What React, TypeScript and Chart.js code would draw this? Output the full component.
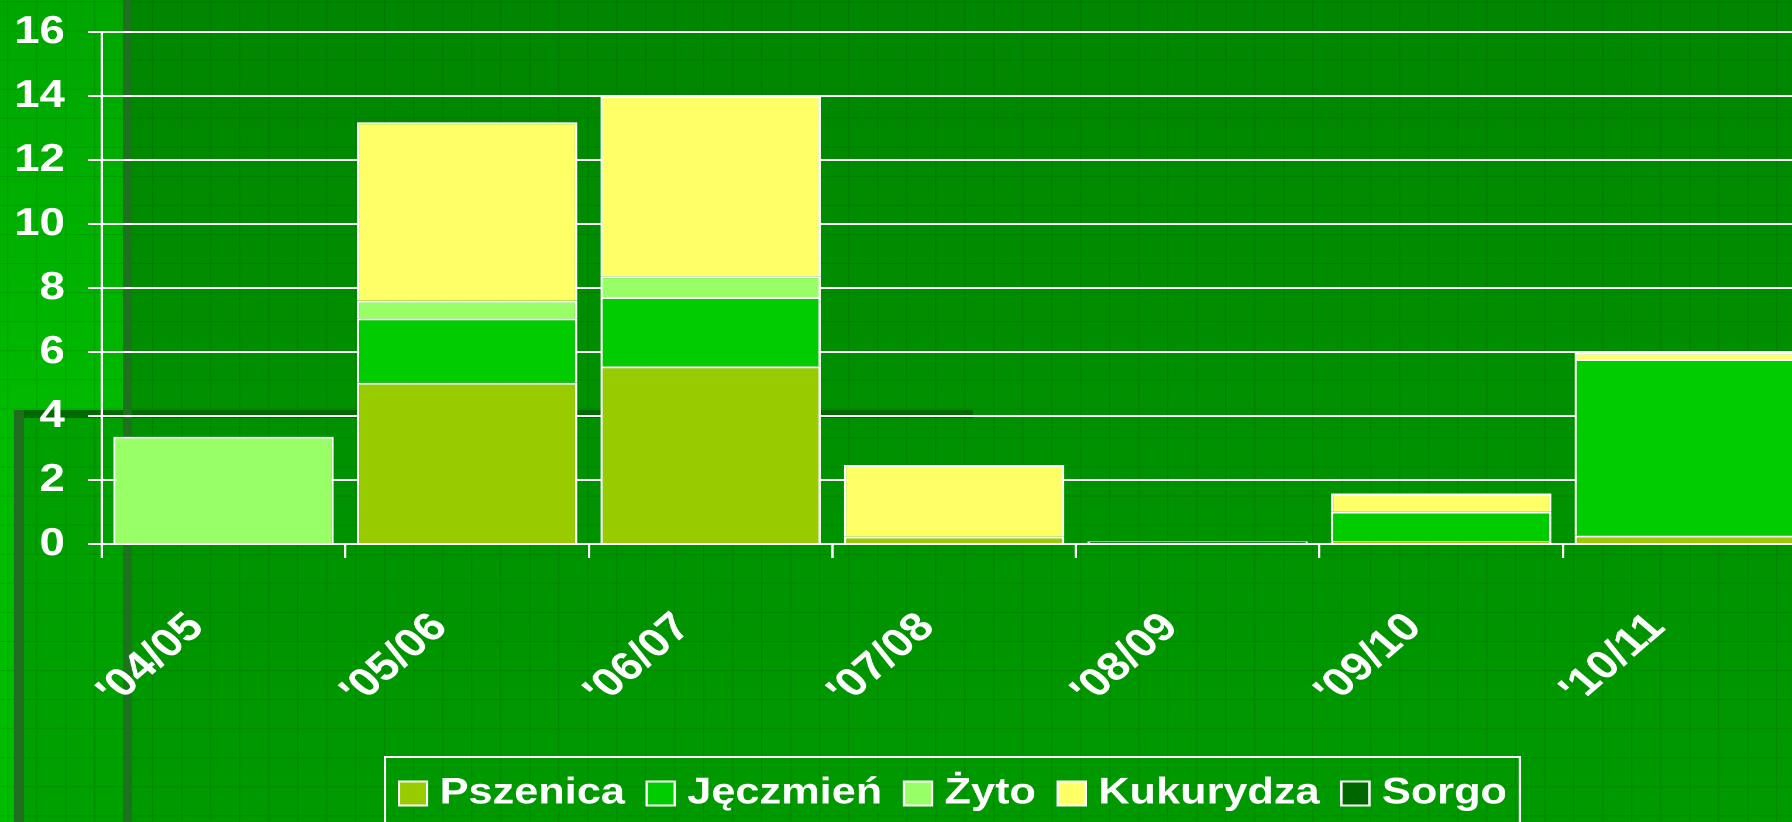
import React, { useEffect, useRef } from "react";
import { Chart, registerables } from "chart.js";

Chart.register(...registerables);

// ---- data ----
const categories = ["'04/05", "'05/06", "'06/07", "'07/08", "'08/09", "'09/10", "'10/11"];
const pszenica = [0, 5.04, 5.55, 0.23, 0, 0.09, 0.26];
const jeczmien = [0, 2.01, 2.17, 0, 0, 0.92, 5.52];
const zyto = [3.35, 0.55, 0.65, 0, 0, 0, 0];
const kukurydza = [0, 5.58, 5.63, 2.24, 0, 0.57, 0.2];
const sorgo = [0, 0, 0, 0, 0.08, 0, 0];
const seriesNames = ["Pszenica", "Jęczmień", "Żyto", "Kukurydza", "Sorgo"];
const seriesColors = ["#99CC00", "#00CC00", "#99FF66", "#FFFF66", "#006600"];
const yMin = 0;
const yMax = 16;
const yStep = 2;

// ---- layout (the original picture is horizontally stretched) ----
const S = 1.17;
const W = 1560;
const H = 822;
const FONT = "'Liberation Sans', Arial, Helvetica, sans-serif";
const X = (v: number) => v / S;
const LEG_FONT = 37;
const LEG_PAD = 26.4;
const LEG_BOXW = 8.4;
const LEG_H = LEG_FONT + LEG_PAD + 10;
const PLOT_BOTTOM = 544;
const X_AXIS_H = H - LEG_H - PLOT_BOTTOM;

const backgroundPlugin = {
  id: "slideBackground",
  beforeDraw(chart: any) {
    const ctx = chart.ctx as CanvasRenderingContext2D;
    ctx.save();
    let g = ctx.createLinearGradient(0, 0, 0, H);
    g.addColorStop(0, "#008700");
    g.addColorStop(1, "#009a00");
    ctx.fillStyle = g;
    ctx.fillRect(0, 0, W, H);

    g = ctx.createLinearGradient(0, 0, 0, 410);
    g.addColorStop(0, "#00a600");
    g.addColorStop(1, "#00ba00");
    ctx.fillStyle = g;
    ctx.fillRect(0, 0, X(123), 410);

    ctx.fillStyle = "#00bc00";
    ctx.fillRect(0, 410, X(14), H - 410);

    ctx.fillStyle = "#00a000";
    ctx.fillRect(X(24), 418, X(123) - X(24), H - 418);

    // faint texture grid
    ctx.strokeStyle = "rgba(0,50,0,0.13)";
    ctx.lineWidth = 1;
    ctx.beginPath();
    for (let y = 1.9; y < H; y += 29.07) {
      ctx.moveTo(0, y);
      ctx.lineTo(W, y);
    }
    for (let x = 7.7; x < 1800; x += 29) {
      ctx.moveTo(X(x), 0);
      ctx.lineTo(X(x), H);
    }
    ctx.stroke();

    // frame pieces
    ctx.fillStyle = "#006a00";
    ctx.fillRect(X(14), 410, X(973) - X(14), 8);
    ctx.fillStyle = "#1f6f1f";
    ctx.fillRect(X(14), 410, X(24) - X(14), H - 410);
    ctx.fillStyle = "#1d721d";
    ctx.fillRect(X(123), 0, X(132) - X(123), H);
    ctx.restore();
  },
};

const SQUARE_OVERHANG = 12 - LEG_BOXW / 2; // square extends left of the hitbox

const legendPlacePlugin = {
  id: "legendPlace",
  afterLayout(chart: any) {
    const lg = chart.legend;
    if (!lg) return;
    const w = lg.right - lg.left;
    const cx = X(953) + SQUARE_OVERHANG / 2;
    lg.left = cx - w / 2;
    lg.right = cx + w / 2;
  },
  afterDraw(chart: any) {
    const lg = chart.legend;
    if (!lg || !lg.legendHitBoxes || !lg.legendHitBoxes.length) return;
    const hb = lg.legendHitBoxes;
    const left = Math.min(...hb.map((h: any) => h.left)) - SQUARE_OVERHANG - 12;
    const right = Math.max(...hb.map((h: any) => h.left + h.width)) + 11;
    const ctx = chart.ctx as CanvasRenderingContext2D;
    ctx.save();
    ctx.strokeStyle = "#ffffff";
    ctx.lineWidth = 2;
    const top = PLOT_BOTTOM + X_AXIS_H + 8.4;
    ctx.strokeRect(left, top, right - left, H + 40 - top);
    ctx.restore();
  },
};

export default function App() {
  const ref = useRef<HTMLCanvasElement | null>(null);

  useEffect(() => {
    if (!ref.current) return;
    const series = [pszenica, jeczmien, zyto, kukurydza, sorgo];
    const chart = new Chart(ref.current, {
      type: "bar",
      data: {
        labels: categories,
        datasets: series.map((d, i) => ({
          label: seriesNames[i],
          data: d,
          backgroundColor: seriesColors[i],
          borderColor: "#ffffff",
          borderWidth: 2,
          categoryPercentage: 1,
          barPercentage: 0.905,
          pointStyle: "rect",
        })),
      },
      options: {
        responsive: false,
        animation: false,
        devicePixelRatio: 2,
        layout: { padding: { top: 32, right: 16, bottom: 0, left: 0 } },
        scales: {
          x: {
            stacked: true,
            offset: true,
            grid: {
              display: true,
              offset: true,
              drawOnChartArea: false,
              drawTicks: true,
              tickLength: 14,
              color: "#ffffff",
              lineWidth: 2,
            },
            border: { display: true, color: "#ffffff", width: 2, z: 1 },
            ticks: {
              color: "#ffffff",
              font: { family: FONT, size: 40, weight: "bold" },
              minRotation: 45,
              maxRotation: 45,
              padding: 46,
              labelOffset: -23,
              autoSkip: false,
            },
            afterFit: (s: any) => {
              s.height = X_AXIS_H;
              s.paddingLeft = 0;
              s.paddingRight = 0;
            },
          },
          y: {
            stacked: true,
            min: yMin,
            max: yMax,
            ticks: {
              stepSize: yStep,
              color: "#ffffff",
              font: { family: FONT, size: 39, weight: "bold" },
              padding: 19.5,
            },
            grid: { color: "#ffffff", lineWidth: 2, tickLength: 12, drawTicks: true },
            border: { display: true, color: "#ffffff", width: 2 },
            afterFit: (s: any) => {
              s.width = 87;
              s.paddingTop = 0;
              s.paddingBottom = 0;
            },
          },
        },
        plugins: {
          legend: {
            display: true,
            position: "bottom",
            labels: {
              color: "#ffffff",
              font: { family: FONT, size: LEG_FONT, weight: "bold" },
              usePointStyle: true,
              boxWidth: LEG_BOXW,
              boxHeight: 24,
              padding: LEG_PAD,
            },
          },
          tooltip: { enabled: false },
        },
      } as any,
      plugins: [backgroundPlugin, legendPlacePlugin],
    });
    return () => chart.destroy();
  }, []);

  return (
    <div
      style={{
        position: "fixed",
        left: 0,
        top: 0,
        width: 1792,
        height: 822,
        overflow: "hidden",
        background: "#009000",
      }}
    >
      <div style={{ width: W, height: H, transform: `scaleX(${S})`, transformOrigin: "0 0" }}>
        <canvas ref={ref} width={W} height={H} style={{ display: "block", width: W, height: H }} />
      </div>
    </div>
  );
}
